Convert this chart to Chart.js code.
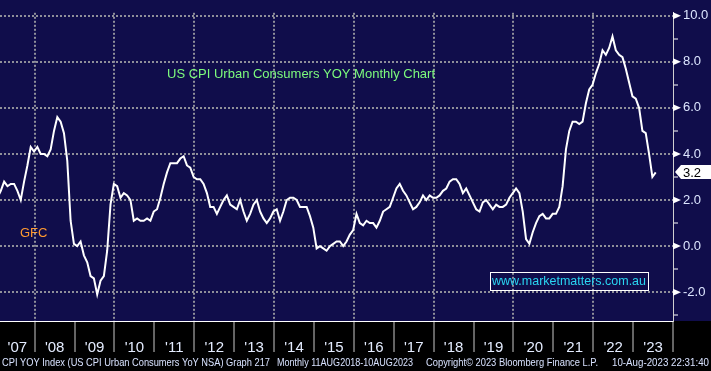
<!DOCTYPE html>
<html>
<head>
<meta charset="utf-8">
<script src="https://cdn.jsdelivr.net/npm/chart.js@4.4.0/dist/chart.umd.min.js"></script>
<style>
  html, body { margin: 0; padding: 0; background: #000; }
  #wrap { width: 711px; height: 371px; }
</style>
</head>
<body>
<div id="wrap"><canvas id="cpiChart" width="711" height="371"></canvas></div>
<script>
// US CPI Urban Consumers YoY (%), one row per year, Jan..Dec
const years = [2007, 2008, 2009, 2010, 2011, 2012, 2013, 2014, 2015, 2016, 2017, 2018, 2019, 2020, 2021, 2022, 2023];
const cpiYoY = [
  [2.1, 2.4, 2.8, 2.6, 2.7, 2.7, 2.4, 2.0, 2.8, 3.5, 4.3, 4.1],
  [4.3, 4.0, 4.0, 3.9, 4.2, 5.0, 5.6, 5.4, 4.9, 3.7, 1.1, 0.1],
  [0.0, 0.2, -0.4, -0.7, -1.3, -1.4, -2.1, -1.5, -1.3, -0.2, 1.8, 2.7],
  [2.6, 2.1, 2.3, 2.2, 2.0, 1.1, 1.2, 1.1, 1.1, 1.2, 1.1, 1.5],
  [1.6, 2.1, 2.7, 3.2, 3.6, 3.6, 3.6, 3.8, 3.9, 3.5, 3.4, 3.0],
  [2.9, 2.9, 2.7, 2.3, 1.7, 1.7, 1.4, 1.7, 2.0, 2.2, 1.8, 1.7],
  [1.6, 2.0, 1.5, 1.1, 1.4, 1.8, 2.0, 1.5, 1.2, 1.0, 1.2, 1.5],
  [1.6, 1.1, 1.5, 2.0, 2.1, 2.1, 2.0, 1.7, 1.7, 1.7, 1.3, 0.8],
  [-0.1, 0.0, -0.1, -0.2, 0.0, 0.1, 0.2, 0.2, 0.0, 0.2, 0.5, 0.7],
  [1.4, 1.0, 0.9, 1.1, 1.0, 1.0, 0.8, 1.1, 1.5, 1.6, 1.7, 2.1],
  [2.5, 2.7, 2.4, 2.2, 1.9, 1.6, 1.7, 1.9, 2.2, 2.0, 2.2, 2.1],
  [2.1, 2.2, 2.4, 2.5, 2.8, 2.9, 2.9, 2.7, 2.3, 2.5, 2.2, 1.9],
  [1.6, 1.5, 1.9, 2.0, 1.8, 1.6, 1.8, 1.7, 1.7, 1.8, 2.1, 2.3],
  [2.5, 2.3, 1.5, 0.3, 0.1, 0.6, 1.0, 1.3, 1.4, 1.2, 1.2, 1.4],
  [1.4, 1.7, 2.6, 4.2, 5.0, 5.4, 5.4, 5.3, 5.4, 6.2, 6.8, 7.0],
  [7.5, 7.9, 8.5, 8.3, 8.6, 9.1, 8.5, 8.3, 8.2, 7.7, 7.1, 6.5],
  [6.4, 6.0, 5.0, 4.9, 4.0, 3.0, 3.2]
];
const yTicks = [-3, -2, -1, 0, 1, 2, 3, 4, 5, 6, 7, 8, 9, 10];
const yMajorTicks = [-2, 0, 2, 4, 6, 8, 10];
const xStart = 2007.13;
const xEnd = 2024;

const titleText = 'US CPI Urban Consumers YOY Monthly Chart';
const gfcText = 'GFC';
const siteText = 'www.marketmatters.com.au';
const footerParts = [
  'CPI YOY Index (US CPI Urban Consumers YoY NSA) Graph 217',
  'Monthly 11AUG2018-10AUG2023',
  'Copyright\u00A9 2023 Bloomberg Finance L.P.',
  '10-Aug-2023 22:31:40'
];

const NAVY = '#100d4b';
const GRID = '#8f8f9a';
const FONT = '"Liberation Sans", Arial, sans-serif';

// monthly points, plotted near month end like the terminal does
const points = [];
years.forEach(function (yr, i) {
  cpiYoY[i].forEach(function (v, m) {
    points.push({ x: yr + (m + 0.8) / 12, y: v });
  });
});
const lastValue = points[points.length - 1].y;

const bbgDecor = {
  id: 'bbgDecor',
  beforeDraw: function (chart) {
    const ctx = chart.ctx;
    const area = chart.chartArea;
    ctx.save();
    ctx.fillStyle = '#000';
    ctx.fillRect(0, 0, chart.width, chart.height);
    ctx.fillStyle = NAVY;
    ctx.fillRect(0, 0, chart.width, area.bottom);
    ctx.restore();
  },
  afterDraw: function (chart) {
    const ctx = chart.ctx;
    const area = chart.chartArea;
    const y = chart.scales.y;
    ctx.save();

    // arrow heads on the major ticks
    ctx.fillStyle = '#ffffff';
    yMajorTicks.forEach(function (v) {
      const py = y.getPixelForValue(v);
      ctx.beginPath();
      ctx.moveTo(area.right, py - 3.5);
      ctx.lineTo(area.right + 8, py);
      ctx.lineTo(area.right, py + 3.5);
      ctx.closePath();
      ctx.fill();
    });

    // last value tag
    const ly = Math.round(y.getPixelForValue(lastValue));
    ctx.beginPath();
    ctx.moveTo(area.right + 2, ly);
    ctx.lineTo(area.right + 8, ly - 7);
    ctx.lineTo(chart.width, ly - 7);
    ctx.lineTo(chart.width, ly + 7);
    ctx.lineTo(area.right + 8, ly + 7);
    ctx.closePath();
    ctx.fill();
    ctx.fillStyle = '#000';
    ctx.font = '13px ' + FONT;
    ctx.textBaseline = 'middle';
    ctx.textAlign = 'left';
    ctx.fillText(lastValue.toFixed(1), area.right + 10, ly + 1);

    // annotations
    ctx.fillStyle = '#7dfb7d';
    ctx.fillText(titleText, 167, 74);
    ctx.fillStyle = '#ff9a30';
    ctx.fillText(gfcText, 20, 233);

    ctx.strokeStyle = '#ffffff';
    ctx.lineWidth = 1;
    ctx.strokeRect(490.5, 272.5, 158, 18);
    ctx.fillStyle = '#2ad6f2';
    ctx.font = '12.5px ' + FONT;
    ctx.fillText(siteText, 492, 282, 154);

    // footer line
    ctx.fillStyle = '#d8e2ff';
    ctx.font = '11px ' + FONT;
    ctx.fillText(footerParts[0], 2, 363, 268);
    ctx.fillText(footerParts[1], 277, 363, 136);
    ctx.fillText(footerParts[2], 426, 363, 172);
    ctx.textAlign = 'right';
    ctx.fillText(footerParts[3], 709, 363, 97);
    ctx.restore();
  }
};

function isYearStart(v) {
  return Math.abs(v - Math.round(v)) < 1e-6;
}

const ctx = document.getElementById('cpiChart').getContext('2d');
new Chart(ctx, {
  type: 'line',
  data: {
    datasets: [{
      label: 'CPI YOY Index',
      data: points,
      borderColor: '#ffffff',
      borderWidth: 2,
      pointRadius: 0,
      tension: 0,
      fill: false
    }]
  },
  options: {
    responsive: false,
    animation: false,
    devicePixelRatio: 1,
    layout: { padding: 0 },
    plugins: {
      legend: { display: false },
      tooltip: { enabled: false }
    },
    scales: {
      x: {
        type: 'linear',
        min: xStart,
        max: xEnd,
        afterBuildTicks: function (scale) {
          const t = [];
          years.forEach(function (yr) {
            t.push({ value: yr === years[0] ? (xStart + yr + 1) / 2 : yr + 0.5 });
            t.push({ value: yr + 1 });
          });
          scale.ticks = t;
        },
        afterFit: function (scale) { scale.height = 50; },
        grid: {
          color: function (c) {
            const v = c.tick ? c.tick.value : 0;
            return isYearStart(v) && v % 2 === 0 && v < xEnd ? GRID : 'rgba(0,0,0,0)';
          },
          lineWidth: 2,
          tickColor: function (c) {
            const v = c.tick ? c.tick.value : 0;
            return isYearStart(v) ? '#c9c9c9' : 'rgba(0,0,0,0)';
          },
          tickLength: 31,
          tickWidth: 1
        },
        border: { display: true, color: '#ffffff', width: 1, dash: [2, 2] },
        ticks: {
          autoSkip: false,
          maxRotation: 0,
          padding: -13,
          color: '#e4ecff',
          font: { family: FONT, size: 15 },
          callback: function (v) {
            if (isYearStart(v)) return '';
            return "'" + String(Math.floor(v)).slice(2);
          }
        }
      },
      y: {
        position: 'right',
        min: -3.25,
        max: 10.125,
        afterBuildTicks: function (scale) {
          scale.ticks = yTicks.map(function (v) { return { value: v }; });
        },
        afterFit: function (scale) { scale.width = 38; },
        grid: {
          color: function (c) {
            const v = c.tick ? c.tick.value : 1;
            return v % 2 === 0 ? GRID : 'rgba(0,0,0,0)';
          },
          lineWidth: 2,
          tickColor: function (c) {
            const v = c.tick ? c.tick.value : 0;
            return v % 2 === 0 ? 'rgba(0,0,0,0)' : '#ffffff';
          },
          tickLength: 5,
          tickWidth: 1
        },
        border: { display: true, color: '#d0d0d0', width: 1, dash: [2, 2] },
        ticks: {
          padding: 5,
          color: '#dde6ff',
          font: { family: FONT, size: 13 },
          callback: function (v) {
            return v % 2 === 0 ? v.toFixed(1) : '';
          }
        }
      }
    }
  },
  plugins: [bbgDecor]
});
</script>
</body>
</html>
